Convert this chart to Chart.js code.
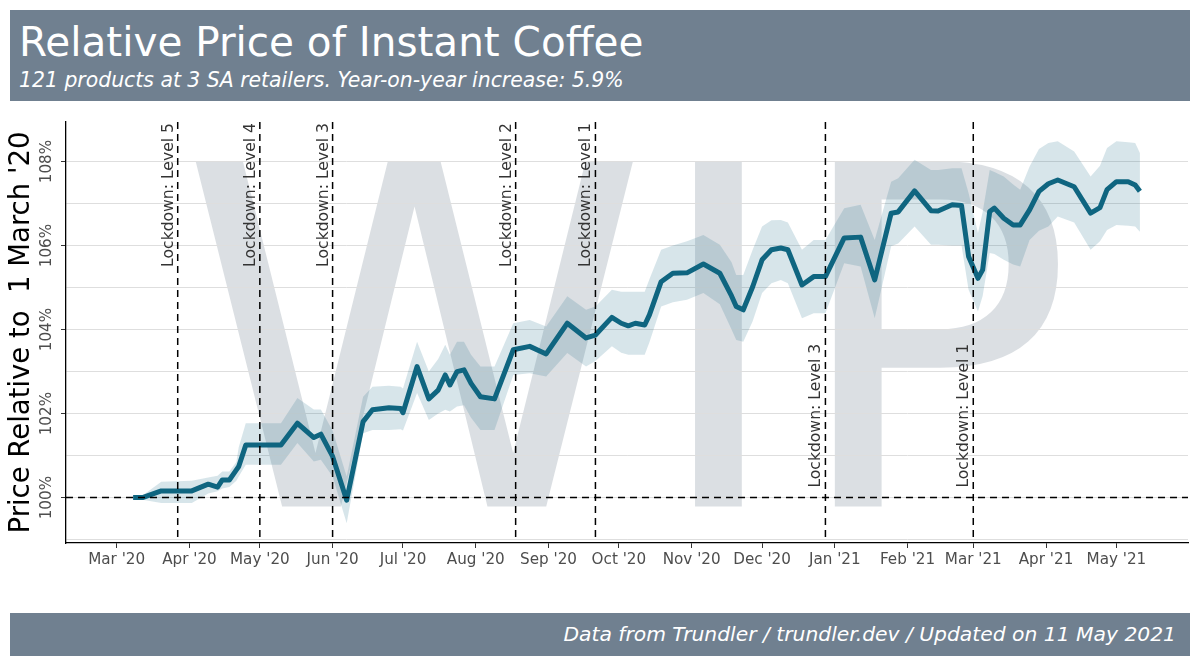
<!DOCTYPE html>
<html>
<head>
<meta charset="utf-8">
<title>Relative Price of Instant Coffee</title>
<script src="https://cdn.jsdelivr.net/npm/chart.js@4.4.1/dist/chart.umd.min.js"></script>
<style>
    body {
        margin: 0;
        width: 1200px;
        height: 667px;
        overflow: hidden;
        background: #fff;
        position: relative;
        font-family: 'DejaVu Sans', sans-serif;
    }
    #chartBox {
        position: absolute;
        left: 0;
        top: 0;
        width: 1200px;
        height: 667px;
    }
    .banner {
        position: absolute;
        left: 10px;
        width: 1180px;
        background: #708090;
        color: #fff;
        z-index: 2;
    }
    #header { top: 10px; height: 91px; }
    #footer { top: 613px; height: 43px; }
    .title {
        position: absolute;
        left: 9px;
        top: 12px;
        font-size: 40.5px;
        line-height: 40px;
        white-space: nowrap;
    }
    .subtitle {
        position: absolute;
        left: 9px;
        top: 60px;
        font-size: 20.4px;
        line-height: 20px;
        font-style: italic;
        white-space: nowrap;
    }
    .caption {
        position: absolute;
        right: 14px;
        top: 11px;
        font-size: 20.3px;
        line-height: 20px;
        font-style: italic;
        white-space: nowrap;
    }
</style>
</head>
<body>
<div id="header" class="banner">
    <div class="title">Relative Price of Instant Coffee</div>
    <div class="subtitle">121 products at 3 SA retailers. Year-on-year increase: 5.9%</div>
</div>
<div id="chartBox"><canvas id="coffeeChart"></canvas></div>
<div id="footer" class="banner">
    <div class="caption">Data from Trundler / trundler.dev / Updated on 11 May 2021</div>
</div>

<script>
// observation dates
const dates = [
    '2020-03-08', '2020-03-12', '2020-03-20', '2020-04-02', '2020-04-09', '2020-04-13', '2020-04-15', '2020-04-18',
    '2020-04-21', '2020-04-22', '2020-04-25', '2020-05-10', '2020-05-17', '2020-05-24', '2020-05-27', '2020-06-01',
    '2020-06-07', '2020-06-14', '2020-06-18', '2020-06-25', '2020-06-30', '2020-07-01', '2020-07-07', '2020-07-12',
    '2020-07-16', '2020-07-19', '2020-07-21', '2020-07-24', '2020-07-27', '2020-07-30', '2020-08-03', '2020-08-09',
    '2020-08-17', '2020-08-24', '2020-08-31', '2020-09-09', '2020-09-17', '2020-09-21', '2020-09-28', '2020-10-02',
    '2020-10-05', '2020-10-08', '2020-10-12', '2020-10-14', '2020-10-19', '2020-10-24', '2020-10-30', '2020-11-06',
    '2020-11-13', '2020-11-18', '2020-11-20', '2020-11-23', '2020-11-27', '2020-12-01', '2020-12-05', '2020-12-09',
    '2020-12-12', '2020-12-18', '2020-12-23', '2020-12-28', '2021-01-05', '2021-01-12', '2021-01-18', '2021-01-25',
    '2021-01-28', '2021-02-04', '2021-02-11', '2021-02-14', '2021-02-20', '2021-02-24', '2021-02-27', '2021-03-03',
    '2021-03-05', '2021-03-08', '2021-03-10', '2021-03-14', '2021-03-18', '2021-03-21', '2021-03-25', '2021-03-29',
    '2021-04-02', '2021-04-06', '2021-04-13', '2021-04-20', '2021-04-24', '2021-04-27', '2021-05-01', '2021-05-06',
    '2021-05-09', '2021-05-11'
];

// price relative to 1 March 2020 (%)
const priceIndex = [
    100.00, 100.00, 100.16, 100.16, 100.32, 100.25, 100.42, 100.42,
    100.66, 100.74, 101.25, 101.25, 101.77, 101.43, 101.51, 100.98,
    99.94, 101.81, 102.09, 102.14, 102.12, 102.02, 103.12, 102.35,
    102.56, 102.92, 102.68, 103.00, 103.04, 102.72, 102.40, 102.35,
    103.52, 103.60, 103.42, 104.15, 103.80, 103.87, 104.29, 104.15,
    104.09, 104.15, 104.11, 104.35, 105.14, 105.34, 105.35, 105.56,
    105.34, 104.80, 104.55, 104.47, 105.02, 105.66, 105.90, 105.94,
    105.90, 105.06, 105.26, 105.26, 106.18, 106.20, 105.18, 106.77,
    106.80, 107.30, 106.83, 106.82, 106.97, 106.95, 105.74, 105.22,
    105.42, 106.81, 106.89, 106.65, 106.49, 106.49, 106.85, 107.29,
    107.47, 107.56, 107.40, 106.77, 106.90, 107.33, 107.52, 107.52,
    107.44, 107.29
];

// ribbon bounds
const lowerBound = [
    99.98, 99.95, 99.87, 99.87, 100.10, 100.15, 100.22, 100.25,
    100.40, 100.50, 100.78, 100.78, 101.30, 100.86, 100.90, 100.50,
    99.39, 101.53, 101.61, 101.61, 101.63, 101.60, 102.49, 101.85,
    102.00, 102.09, 102.05, 102.17, 102.20, 101.90, 101.61, 101.61,
    102.92, 102.96, 102.88, 103.44, 103.12, 103.25, 103.60, 103.45,
    103.40, 103.40, 103.40, 103.70, 104.55, 104.65, 104.71, 104.87,
    104.60, 104.00, 103.75, 103.71, 104.20, 104.87, 105.10, 105.18,
    105.10, 104.27, 104.39, 104.39, 105.58, 105.50, 104.27, 105.98,
    106.05, 106.45, 106.02, 106.02, 106.00, 106.00, 104.95, 104.43,
    104.80, 105.82, 105.80, 105.66, 105.55, 105.50, 106.13, 106.35,
    106.45, 106.69, 106.55, 105.90, 106.10, 106.37, 106.49, 106.47,
    106.45, 106.33
];
const upperBound = [
    100.02, 100.05, 100.38, 100.40, 100.48, 100.52, 100.62, 100.62,
    100.85, 101.20, 101.77, 101.77, 102.37, 102.10, 102.10, 101.60,
    100.50, 102.40, 102.64, 102.66, 102.64, 102.60, 103.71, 103.00,
    103.30, 103.64, 103.40, 103.71, 103.71, 103.40, 103.12, 103.12,
    104.15, 104.23, 104.07, 104.79, 104.47, 104.55, 104.95, 104.90,
    104.90, 104.90, 104.90, 105.20, 105.90, 106.00, 106.10, 106.25,
    106.02, 105.60, 105.30, 105.30, 105.90, 106.45, 106.60, 106.61,
    106.55, 105.90, 106.13, 106.13, 106.89, 106.97, 106.13, 107.52,
    107.60, 108.04, 107.80, 107.80, 107.84, 107.84, 107.25, 106.30,
    106.80, 107.80, 107.75, 107.64, 107.45, 107.33, 107.88, 108.30,
    108.44, 108.48, 108.24, 107.64, 107.90, 108.32, 108.48, 108.46,
    108.44, 108.20
];

// lockdown level changes
const lockdownDates = ['2020-03-27', '2020-05-01', '2020-06-01', '2020-08-18', '2020-09-21', '2020-12-28', '2021-03-01'];
const lockdownLabels = ['Lockdown: Level 5', 'Lockdown: Level 4', 'Lockdown: Level 3', 'Lockdown: Level 2',
    'Lockdown: Level 1', 'Lockdown: Level 3', 'Lockdown: Level 1'];

// axis ticks
const monthTicks = ['2020-03-01', '2020-04-01', '2020-05-01', '2020-06-01', '2020-07-01', '2020-08-01', '2020-09-01',
    '2020-10-01', '2020-11-01', '2020-12-01', '2021-01-01', '2021-02-01', '2021-03-01', '2021-04-01', '2021-05-01'];
const monthLabels = ["Mar '20", "Apr '20", "May '20", "Jun '20", "Jul '20", "Aug '20", "Sep '20",
    "Oct '20", "Nov '20", "Dec '20", "Jan '21", "Feb '21", "Mar '21", "Apr '21", "May '21"];
const yTicks = [99, 100, 101, 102, 103, 104, 105, 106, 107, 108];
const baseline = 100;

// days since 1 March 2020
function dayOf(s) {
    const p = s.split('-').map(Number);
    return (Date.UTC(p[0], p[1] - 1, p[2]) - Date.UTC(2020, 2, 1)) / 86400000;
}

document.addEventListener('DOMContentLoaded', function() {
    const FONT = "'DejaVu Sans', sans-serif";
    Chart.defaults.font.family = FONT;

    const lineColor = '#0f6580';
    const ribbonColor = 'rgba(16, 99, 128, 0.17)';

    const toPoints = arr => arr.map((v, i) => ({ x: dayOf(dates[i]), y: v }));

    // WIP watermark + dashed reference lines
    const overlays = {
        id: 'overlays',
        beforeDraw(chart) {
            const { ctx, chartArea: a } = chart;
            ctx.save();
            ctx.font = "474px " + FONT;
            ctx.fillStyle = 'rgba(112, 128, 144, 0.25)';
            ctx.textAlign = 'center';
            ctx.textBaseline = 'alphabetic';
            const m = ctx.measureText('WIP');
            const cy = (a.top + a.bottom) / 2;
            ctx.fillText('WIP', (a.left + a.right) / 2, cy + (m.actualBoundingBoxAscent - m.actualBoundingBoxDescent) / 2);
            ctx.restore();
        },
        afterDatasetsDraw(chart) {
            const { ctx, chartArea: a, scales: { x, y } } = chart;
            ctx.save();
            ctx.strokeStyle = '#000';
            ctx.lineWidth = 1.5;
            ctx.setLineDash([7, 5]);

            const y0 = y.getPixelForValue(baseline);
            ctx.beginPath();
            ctx.moveTo(a.left, y0);
            ctx.lineTo(a.right, y0);
            ctx.stroke();

            ctx.font = "15.6px " + FONT;
            ctx.fillStyle = '#333';
            ctx.textBaseline = 'alphabetic';
            lockdownDates.forEach((d, i) => {
                const px = x.getPixelForValue(dayOf(d));
                ctx.beginPath();
                ctx.moveTo(px, a.top);
                ctx.lineTo(px, a.bottom);
                ctx.stroke();

                ctx.save();
                const low = dayOf(d) > 300;
                ctx.translate(px - 5, low ? y0 - 10 : a.top + 1);
                ctx.rotate(-Math.PI / 2);
                ctx.textAlign = low ? 'left' : 'right';
                ctx.fillText(lockdownLabels[i], 0, 0);
                ctx.restore();
            });
            ctx.restore();
        }
    };

    new Chart(document.getElementById('coffeeChart'), {
        type: 'line',
        data: {
            datasets: [
                {
                    label: 'Relative price',
                    data: toPoints(priceIndex),
                    borderColor: lineColor,
                    borderWidth: 5,
                    borderJoinStyle: 'round',
                    pointRadius: 0,
                    fill: false,
                    order: 0
                },
                {
                    label: 'Upper',
                    data: toPoints(upperBound),
                    borderColor: 'transparent',
                    borderWidth: 0,
                    pointRadius: 0,
                    backgroundColor: ribbonColor,
                    fill: '+1',
                    order: 1
                },
                {
                    label: 'Lower',
                    data: toPoints(lowerBound),
                    borderColor: 'transparent',
                    borderWidth: 0,
                    pointRadius: 0,
                    fill: false,
                    order: 2
                }
            ]
        },
        options: {
            responsive: true,
            maintainAspectRatio: false,
            animation: false,
            layout: { padding: { top: 122, right: 12, bottom: 94, left: 0 } },
            plugins: {
                legend: { display: false },
                tooltip: { enabled: false }
            },
            scales: {
                x: {
                    type: 'linear',
                    min: -21.6,
                    max: 456.5,
                    afterBuildTicks: s => { s.ticks = monthTicks.map(d => ({ value: dayOf(d) })); },
                    afterFit: s => { s.height = 30; },
                    ticks: {
                        callback: (v, i) => monthLabels[i],
                        autoSkip: false,
                        minRotation: 0,
                        maxRotation: 0,
                        padding: 3,
                        color: '#4d4d4d',
                        font: { size: 15.2 }
                    },
                    grid: {
                        drawOnChartArea: false,
                        drawTicks: true,
                        tickLength: 5,
                        tickColor: '#333'
                    },
                    border: { display: true, color: '#000', width: 1.3 }
                },
                y: {
                    min: 98.92,
                    max: 108.94,
                    afterBuildTicks: s => { s.ticks = yTicks.map(v => ({ value: v })); },
                    afterFit: s => { s.width = 66; },
                    ticks: {
                        callback: v => (v % 2 === 0 ? v + '%' : ''),
                        minRotation: 90,
                        maxRotation: 90,
                        crossAlign: 'center',
                        padding: -8,
                        color: '#4d4d4d',
                        font: { size: 15.2 }
                    },
                    grid: {
                        color: '#dedede',
                        lineWidth: 1,
                        tickLength: 5,
                        tickColor: c => (c.tick && c.tick.value % 2 === 0 ? '#333' : 'rgba(0,0,0,0)')
                    },
                    border: { display: true, color: '#000', width: 1.3 },
                    title: {
                        display: true,
                        text: "Price Relative to  1 March '20",
                        color: '#000',
                        font: { size: 27.5 },
                        padding: { top: 5, bottom: 0 }
                    }
                }
            }
        },
        plugins: [overlays]
    });
});
</script>
</body>
</html>
